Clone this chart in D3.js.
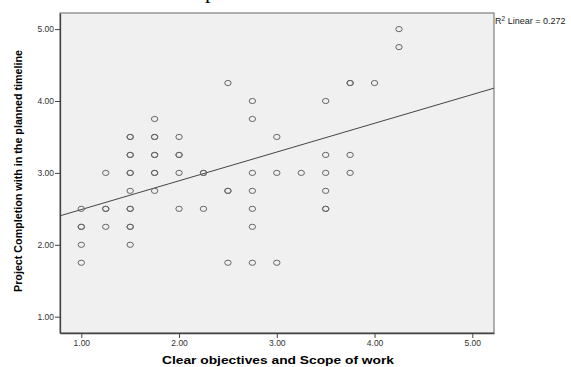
<!DOCTYPE html>
<html><head><meta charset="utf-8">
<script src="https://cdn.jsdelivr.net/npm/d3@7"></script>
<style>body{margin:0;background:#fff}svg{display:block}</style>
</head><body>
<svg id="c" width="571" height="367"></svg>
<script>
// Data: (x, y) observations; duplicates reflect overlapping (darker) markers
const xVals = [
  1.00,1.00,1.00,1.00,1.00,
  1.25,1.25,1.25,1.25,
  1.50,1.50,1.50,1.50,1.50,1.50,1.50,1.50,1.50,1.50,1.50,1.50,
  1.75,1.75,1.75,1.75,1.75,1.75,1.75,1.75,
  2.00,2.00,2.00,2.00,2.00,
  2.25,2.25,2.25,
  2.50,2.50,2.50,2.50,
  2.75,2.75,2.75,2.75,2.75,2.75,2.75,
  3.00,3.00,3.00,
  3.25,
  3.50,3.50,3.50,3.50,3.50,3.50,
  3.75,3.75,3.75,3.75,
  4.00,
  4.25,4.25
];
const yVals = [
  2.50,2.25,2.25,2.00,1.75,
  3.00,2.50,2.50,2.25,
  3.50,3.50,3.25,3.25,3.00,3.00,2.75,2.50,2.50,2.25,2.25,2.00,
  3.75,3.50,3.50,3.25,3.25,3.00,3.00,2.75,
  3.50,3.25,3.25,3.00,2.50,
  3.00,3.00,2.50,
  4.25,2.75,2.75,1.75,
  4.00,3.75,3.00,2.75,2.50,2.25,1.75,
  3.50,3.00,1.75,
  3.00,
  4.00,3.25,3.00,2.75,2.50,2.50,
  4.25,4.25,3.25,3.00,
  4.25,
  5.00,4.75
];
const tickVals = [1, 2, 3, 4, 5];
const fitIntercept = 2.09, fitSlope = 0.40;
const r2Label = "0.272";
const xTitle = "Clear objectives and Scope of work";
const yTitle = "Project Completion with in the planned timeline";

const svg = d3.select("#c");
const L = 60, R = 494, T = 13, B = 333;
const x = d3.scaleLinear().domain([0.782, 5.222]).range([L, R]);
const y = d3.scaleLinear().domain([0.773, 5.224]).range([B, T]);

// cropped title fragment at top (as in the reference)
svg.append("text").attr("x", 205).attr("y", -2).attr("font-family", "Liberation Serif, serif")
  .attr("font-size", 22).attr("fill", "#000").text("p");

svg.append("rect").attr("x", L).attr("y", T).attr("width", R - L).attr("height", B - T)
  .attr("fill", "#f0f0f0").attr("stroke", "#666").attr("stroke-width", 1);

const fmt = d3.format(".2f");
const ax = svg.append("g").attr("transform", `translate(0,${B})`)
  .call(d3.axisBottom(x).tickValues(tickVals).tickFormat(fmt).tickSize(5).tickSizeOuter(0).tickPadding(2));
const ay = svg.append("g").attr("transform", `translate(${L},0)`)
  .call(d3.axisLeft(y).tickValues(tickVals).tickFormat(fmt).tickSize(5).tickSizeOuter(0).tickPadding(1));
[ax, ay].forEach(g => {
  g.select(".domain").attr("stroke", "#444").attr("stroke-width", 1.3);
  g.selectAll(".tick line").attr("stroke", "#444");
  g.selectAll(".tick text").attr("font-family", "Liberation Sans, Arial, sans-serif")
    .attr("font-size", 8.5).attr("fill", "#333");
});

// fit line
const x0 = x.domain()[0], x1 = x.domain()[1];
svg.append("line")
  .attr("x1", x(x0)).attr("y1", y(fitIntercept + fitSlope * x0))
  .attr("x2", x(x1)).attr("y2", y(fitIntercept + fitSlope * x1))
  .attr("stroke", "#444").attr("stroke-width", 1);

// points
svg.append("g").selectAll("ellipse").data(xVals.map((v, i) => [v, yVals[i]])).join("ellipse")
  .attr("cx", d => x(d[0])).attr("cy", d => y(d[1]))
  .attr("rx", 3.2).attr("ry", 2.6)
  .attr("fill", "none").attr("stroke", "#666").attr("stroke-width", 1);

// R2 label
const r2 = svg.append("text").attr("x", 495).attr("y", 24)
  .attr("font-family", "Liberation Sans, Arial, sans-serif").attr("font-size", 9).attr("fill", "#222");
r2.append("tspan").text("R");
r2.append("tspan").attr("dy", -3).attr("font-size", 6.5).text("2");
r2.append("tspan").attr("dy", 3).text(" Linear = " + r2Label);

// axis titles
svg.append("text").attr("x", 278).attr("y", 364).attr("text-anchor", "middle")
  .attr("font-family", "Liberation Sans, Arial, sans-serif").attr("font-weight", "bold")
  .attr("font-size", 10).attr("textLength", 232).attr("lengthAdjust", "spacingAndGlyphs")
  .attr("fill", "#000").text(xTitle);
svg.append("text").attr("transform", "translate(22,171) rotate(-90)").attr("text-anchor", "middle")
  .attr("font-family", "Liberation Sans, Arial, sans-serif").attr("font-weight", "bold")
  .attr("font-size", 10.5).attr("textLength", 242).attr("lengthAdjust", "spacingAndGlyphs")
  .attr("fill", "#000").text(yTitle);
</script>
</body></html>
